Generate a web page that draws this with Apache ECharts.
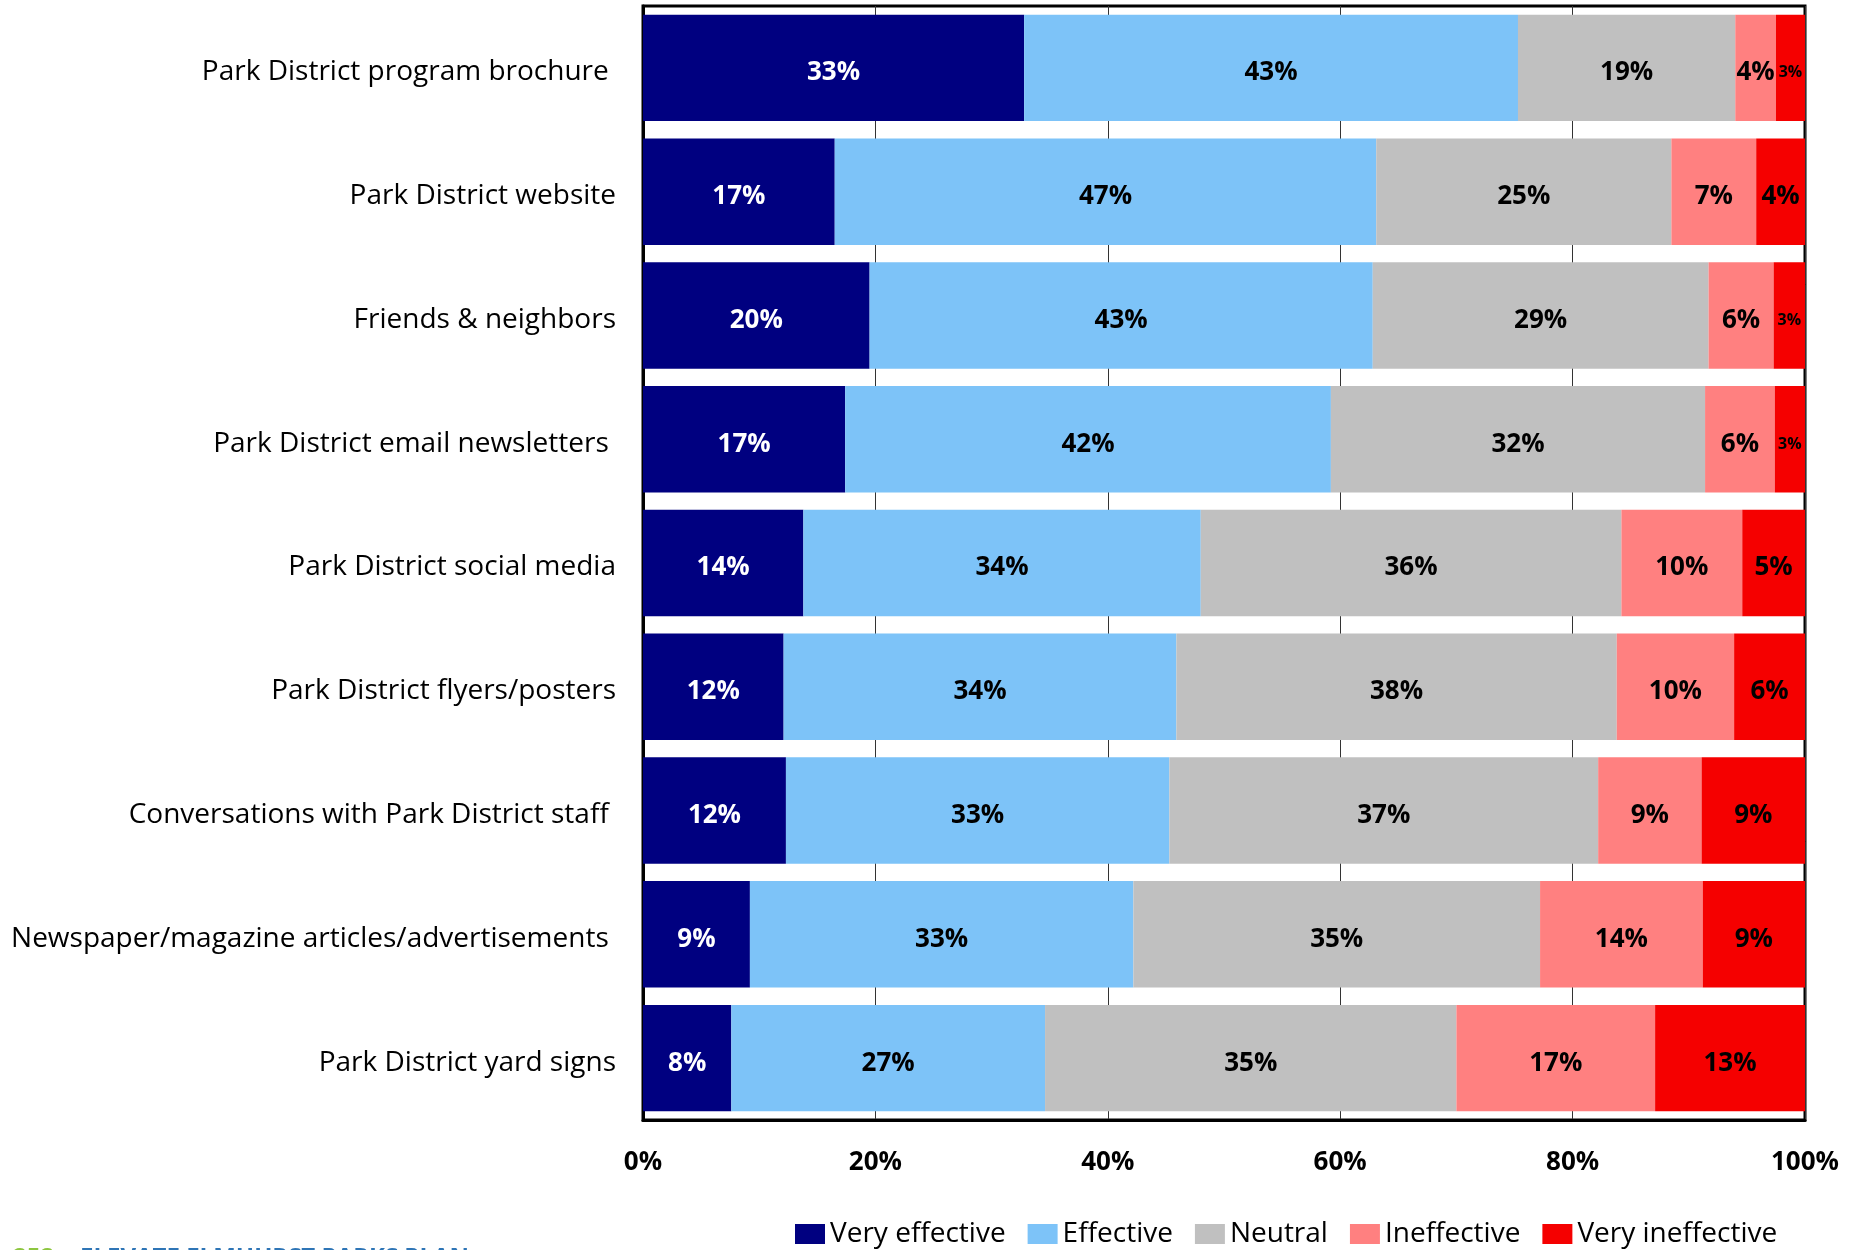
<!DOCTYPE html>
<html>
<head>
<meta charset="utf-8">
<script src="https://cdn.jsdelivr.net/npm/echarts@6/dist/echarts.min.js"></script>
<style>
html,body{margin:0;padding:0;background:#fff;}
#chart{width:1864px;height:1250px;}
</style>
</head>
<body>
<div id="chart"></div>
<script>
var categories = [
  'Park District program brochure ',
  'Park District website',
  'Friends & neighbors',
  'Park District email newsletters ',
  'Park District social media',
  'Park District flyers/posters',
  'Conversations with Park District staff ',
  'Newspaper/magazine articles/advertisements ',
  'Park District yard signs'
];
var seriesNames = ['Very effective', 'Effective', 'Neutral', 'Ineffective', 'Very ineffective'];
var veryEffective   = [32.8, 16.5, 19.5, 17.4, 13.8, 12.1, 12.3, 9.2, 7.6];
var effective       = [42.5, 46.6, 43.3, 41.8, 34.2, 33.8, 33.0, 33.0, 27.0];
var neutral         = [18.7, 25.4, 28.9, 32.2, 36.2, 37.9, 36.9, 35.0, 35.4];
var ineffective     = [3.5, 7.3, 5.6, 6.0, 10.4, 10.1, 8.9, 14.0, 17.1];
var veryIneffective = [2.5, 4.2, 2.7, 2.6, 5.4, 6.1, 8.9, 8.8, 12.9];
var xTicks = [0, 20, 40, 60, 80, 100];

var colors = ['#000080', '#7DC3F8', '#C0C0C0', '#FF8080', '#F50000'];
var labelColors = ['#ffffff', '#000000', '#000000', '#000000', '#000000'];
var allData = [veryEffective, effective, neutral, ineffective, veryIneffective];

var chart = echarts.init(document.getElementById('chart'));

var series = allData.map(function (arr, i) {
  return {
    name: seriesNames[i],
    type: 'bar',
    stack: 'total',
    barCategoryGap: '14%',
    itemStyle: { color: colors[i] },
    data: arr.map(function (v) {
      return {
        value: v,
        label: {
          fontSize: v < 3 ? 16 : 26
        }
      };
    }),
    label: {
      show: true,
      position: 'inside',
      offset: [0, 5],
      color: labelColors[i],
      fontFamily: 'Open Sans',
      fontWeight: 'bold',
      formatter: function (p) { return Math.round(p.value) + '%'; }
    },
    emphasis: { disabled: true }
  };
});

chart.setOption({
  animation: false,
  backgroundColor: '#ffffff',
  grid: {
    left: 643, right: 59, top: 6, bottom: 130,
    show: true, borderColor: '#000', borderWidth: 3,
    containLabel: false
  },
  legend: {
    data: seriesNames,
    left: 790, top: 1215,
    itemWidth: 30, itemHeight: 20,
    itemGap: 22,
    icon: 'rect',
    textStyle: {
      fontFamily: 'Open Sans',
      fontSize: 28,
      color: '#000'
    }
  },
  xAxis: {
    type: 'value',
    min: xTicks[0], max: xTicks[xTicks.length - 1], interval: 20,
    axisLine: { show: true, lineStyle: { color: '#000', width: 3 } },
    axisTick: { show: false },
    splitLine: { show: true, lineStyle: { color: '#333', width: 1 } },
    axisLabel: {
      margin: 30,
      fontFamily: 'Open Sans',
      fontWeight: 'bold',
      fontSize: 26,
      color: '#000',
      formatter: '{value}%'
    }
  },
  yAxis: {
    type: 'category',
    inverse: true,
    data: categories,
    axisLine: { show: true, lineStyle: { color: '#000', width: 3 } },
    axisTick: { show: false },
    axisLabel: {
      margin: 27,
      color: '#000',
      formatter: function (v) { return '{c|' + v + '}'; },
      rich: {
        c: {
          fontFamily: 'Open Sans',
          fontSize: 28,
          color: '#000',
          padding: [9, 0, 0, 0]
        }
      }
    }
  },
  graphic: [
    { type: 'text', left: 13, top: 1246, style: { text: '252', fill: '#8DC63F', font: 'bold 24px "Open Sans"' } },
    { type: 'text', left: 80, top: 1246, style: { text: 'ELEVATE ELMHURST PARKS PLAN', fill: '#2E75B6', font: 'bold 24px "Open Sans"' } }
  ],
  series: series
});
</script>
</body>
</html>
